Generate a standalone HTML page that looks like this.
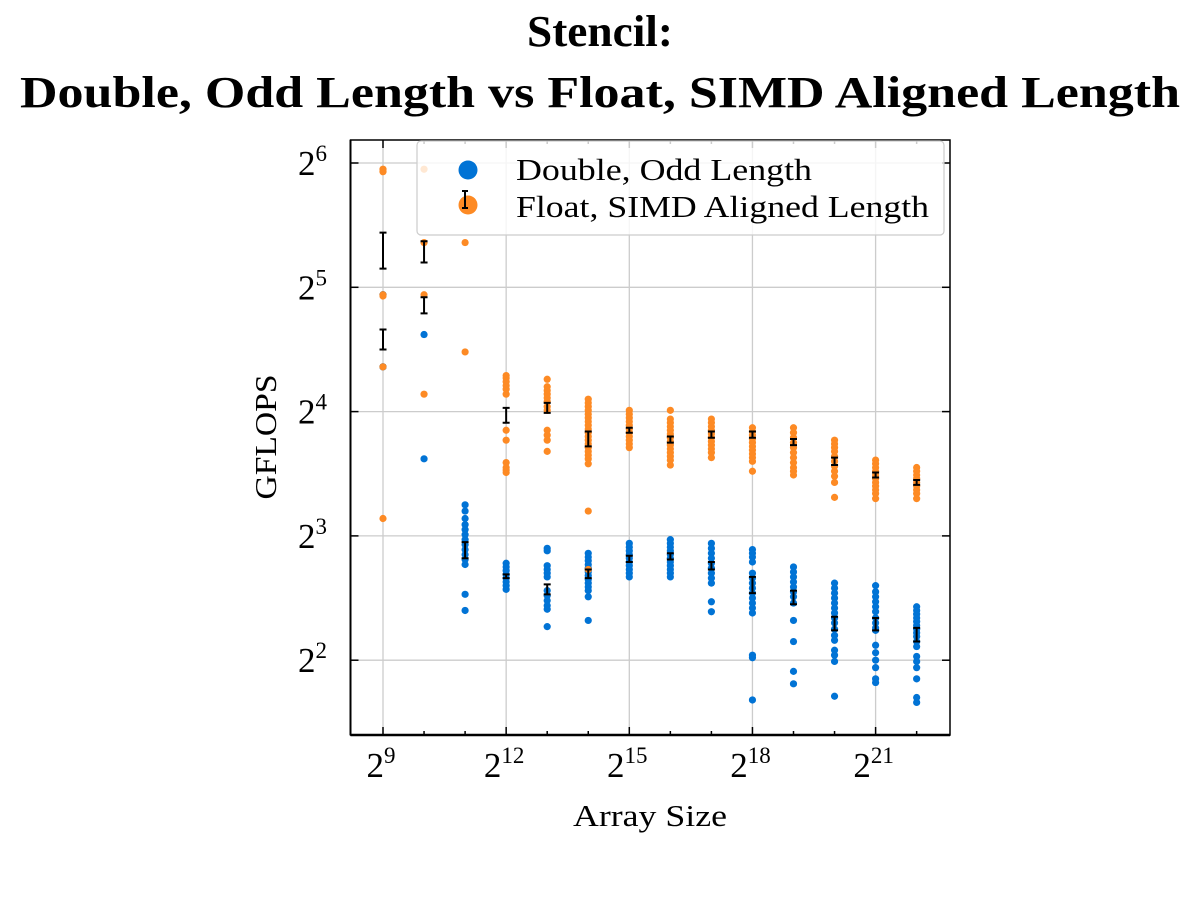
<!DOCTYPE html>
<html><head><meta charset="utf-8"><style>
body{margin:0;background:#fff}
svg text{font-family:"Liberation Serif",serif;fill:#000}
</style></head><body>
<svg id="chart" width="1200" height="900" xmlns="http://www.w3.org/2000/svg">
<text x="600" y="46" text-anchor="middle" font-size="44" font-weight="bold" textLength="146" lengthAdjust="spacingAndGlyphs">Stencil:</text>
<text x="600" y="107" text-anchor="middle" font-size="44" font-weight="bold" textLength="1160" lengthAdjust="spacingAndGlyphs">Double, Odd Length vs Float, SIMD Aligned Length</text>
<g id="grid"></g>
<g id="marks"></g>
<g id="axes"></g>
<text transform="translate(276,437) rotate(-90)" text-anchor="middle" font-size="31" textLength="125" lengthAdjust="spacingAndGlyphs">GFLOPS</text>
<text x="650" y="826" text-anchor="middle" font-size="31" textLength="154" lengthAdjust="spacingAndGlyphs">Array Size</text>
<g>
<rect x="417" y="141" width="527" height="94" rx="4" fill="rgba(255,255,255,0.8)" stroke="#ccc" stroke-width="1.2"/>
<circle cx="468" cy="170" r="9.5" fill="#0173d5"/>
<text x="516" y="180" font-size="31" textLength="296" lengthAdjust="spacingAndGlyphs">Double, Odd Length</text>
<circle cx="468" cy="205" r="9.5" fill="#fd8a24"/>
<path d="M465 191V208M462 191h6M462 208h6" stroke="#000" stroke-width="2" fill="none"/>
<text x="516" y="217" font-size="31" textLength="413" lengthAdjust="spacingAndGlyphs">Float, SIMD Aligned Length</text>
</g>
</svg>
<script>
const xExps=[9,10,11,12,13,14,15,16,17,18,19,20,21,22];
const floatLog2=[
[5.95,5.93,4.94,4.93,4.36,3.14],
[5.95,5.36,4.94,4.14],
[5.36,4.48],
[4.29,4.27,4.24,4.21,4.18,4.14,3.85,3.77,3.59,3.55,3.53,3.51],
[4.26,4.20,4.17,4.14,4.11,4.08,4.04,4.01,3.85,3.81,3.77,3.68],
[4.10,4.07,4.04,4.01,3.98,3.95,3.92,3.89,3.86,3.83,3.80,3.77,3.74,3.71,3.68,3.65,3.62,3.58,3.20,2.73],
[4.01,3.98,3.95,3.92,3.89,3.86,3.83,3.80,3.77,3.74,3.71],
[4.01,3.94,3.91,3.88,3.85,3.82,3.79,3.76,3.73,3.70,3.67,3.64,3.61,3.57],
[3.94,3.91,3.88,3.85,3.82,3.79,3.76,3.73,3.70,3.67,3.63],
[3.87,3.84,3.81,3.78,3.75,3.72,3.69,3.66,3.63,3.60,3.52],
[3.87,3.83,3.79,3.75,3.71,3.67,3.63,3.59,3.55,3.52,3.49],
[3.77,3.74,3.71,3.68,3.64,3.60,3.56,3.52,3.48,3.43,3.31],
[3.61,3.58,3.55,3.52,3.49,3.46,3.43,3.40,3.37,3.34,3.30],
[3.55,3.52,3.49,3.46,3.43,3.40,3.37,3.34,3.30]
];
const doubleLog2=[
[4.36,4.36,4.94,4.94],
[4.62,3.62],
[3.25,3.20,3.14,3.09,3.05,3.01,2.97,2.93,2.89,2.85,2.81,2.77,2.53,2.40],
[2.78,2.75,2.72,2.69,2.66,2.63,2.60,2.57],
[2.90,2.88,2.76,2.73,2.70,2.67,2.56,2.52,2.48,2.44,2.41,2.27],
[2.86,2.83,2.80,2.77,2.74,2.71,2.68,2.65,2.62,2.59,2.56,2.51,2.32],
[2.94,2.91,2.88,2.85,2.82,2.79,2.76,2.73,2.70,2.67],
[2.97,2.94,2.91,2.88,2.85,2.82,2.79,2.76,2.73,2.70,2.67],
[2.94,2.90,2.86,2.82,2.78,2.74,2.70,2.66,2.62,2.47,2.39],
[2.89,2.86,2.83,2.79,2.70,2.66,2.62,2.58,2.54,2.50,2.46,2.42,2.38,2.04,2.02,1.68],
[2.75,2.71,2.67,2.63,2.59,2.55,2.51,2.46,2.32,2.15,1.91,1.81],
[2.62,2.58,2.54,2.50,2.46,2.42,2.38,2.34,2.30,2.25,2.20,2.16,2.08,2.04,1.99,1.71],
[2.60,2.55,2.51,2.47,2.43,2.39,2.34,2.30,2.26,2.24,2.12,2.06,2.00,1.94,1.85,1.82],
[2.43,2.40,2.37,2.34,2.31,2.28,2.25,2.22,2.19,2.15,2.11,2.03,1.99,1.94,1.85,1.70,1.66]
];
const floatErrLo=[5.15,5.20,null,3.91,3.99,3.72,3.83,3.75,3.79,3.79,3.73,3.57,3.47,3.41];
const floatErrHi=[5.44,5.37,null,4.03,4.07,3.84,3.87,3.80,3.84,3.84,3.78,3.63,3.51,3.45];
const doubleErrLo=[4.50,4.79,2.82,2.66,2.53,2.66,2.79,2.81,2.73,2.54,2.45,2.24,2.24,2.15];
const doubleErrHi=[4.66,4.92,2.95,2.69,2.61,2.73,2.84,2.86,2.79,2.67,2.56,2.35,2.34,2.26];
const xTickExps=[9,12,15,18,21];
const yTickExps=[2,3,4,5,6];

const NS="http://www.w3.org/2000/svg";
const L=350.5,R=950,T=140,B=735;
const xs=e=>383+(e-9)*41.05;
const ys=e=>163+(6-e)*124.3;
function mk(tag,attrs,parent){const el=document.createElementNS(NS,tag);for(const k in attrs)el.setAttribute(k,attrs[k]);parent.appendChild(el);return el;}
const grid=document.getElementById('grid'),marks=document.getElementById('marks'),axes=document.getElementById('axes');
xTickExps.forEach(e=>{const l=mk('line',{x1:xs(e),x2:xs(e),y1:T,y2:B,stroke:'#ccc','stroke-width':1.3},grid);

});
yTickExps.forEach(e=>{const l=mk('line',{x1:L,x2:R,y1:ys(e),y2:ys(e),stroke:'#ccc','stroke-width':1.3},grid);

});
function drawSeries(data,color,name){data.forEach((col,i)=>col.forEach(v=>{const c=mk('circle',{cx:xs(xExps[i]),cy:ys(v),r:3.6,fill:color},marks);

}));}
drawSeries(doubleLog2,'#0173d5','double-point');
drawSeries(floatLog2,'#fd8a24','float-point');
function drawErr(lo,hi,name){lo.forEach((v,i)=>{if(v==null)return;const x=xs(xExps[i]),a=ys(v),b=ys(hi[i]);
const p=mk('path',{d:`M${x} ${a}V${b}M${x-3.5} ${a}h7M${x-3.5} ${b}h7`,stroke:'#000','stroke-width':2,fill:'none'},marks);

});}
drawErr(doubleErrLo,doubleErrHi,'double-errorbar');
drawErr(floatErrLo,floatErrHi,'float-errorbar');
mk('rect',{x:L,y:T,width:R-L,height:B-T,fill:'none',stroke:'#000','stroke-width':1.5},axes);
mk('line',{x1:L,x2:R,y1:B,y2:B,stroke:'#000','stroke-width':2.5},axes);
mk('line',{x1:L,x2:L,y1:T,y2:B,stroke:'#000','stroke-width':2},axes);
for(let e=9;e<=22;e++){const major=xTickExps.includes(e);const len=major?8:4;
mk('line',{x1:xs(e),x2:xs(e),y1:B,y2:B-len,stroke:'#000','stroke-width':1.5},axes);
mk('line',{x1:xs(e),x2:xs(e),y1:T,y2:T+len,stroke:'#000','stroke-width':1.5},axes);}
xTickExps.forEach(e=>{const t=mk('text',{x:xs(e)-2,y:777,'text-anchor':'middle','font-size':35},axes);


t.textContent='2';const s=mk('tspan',{dy:-14,'font-size':23},t);s.textContent=String(e);});
yTickExps.forEach(e=>{mk('line',{x1:L,x2:L+8,y1:ys(e),y2:ys(e),stroke:'#000','stroke-width':1.5},axes);
mk('line',{x1:R-8,x2:R,y1:ys(e),y2:ys(e),stroke:'#000','stroke-width':1.5},axes);
const t=mk('text',{x:298,y:ys(e)+12,'font-size':35},axes);


t.textContent='2';const s=mk('tspan',{dy:-14,'font-size':23},t);s.textContent=String(e);});
</script>
</body></html>
